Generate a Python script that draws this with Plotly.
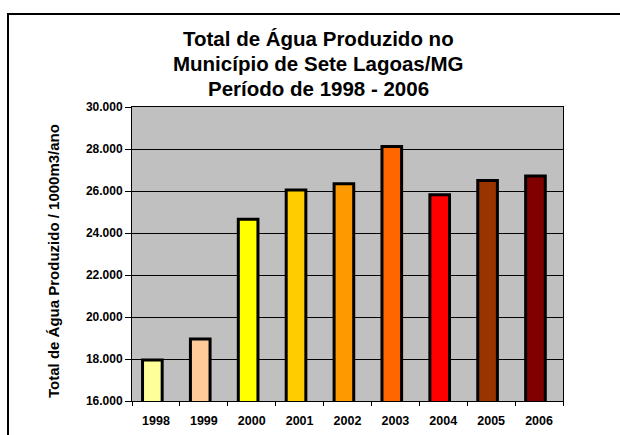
import plotly.graph_objects as go

years = ["1998", "1999", "2000", "2001", "2002", "2003", "2004", "2005", "2006"]
values = [17950, 18950, 24650, 26050, 26350, 28120, 25820, 26500, 26720]
colors = ["#FFFF99", "#FFCC99", "#FFFF00", "#FFCC00", "#FF9900",
          "#FF6600", "#FF0000", "#993300", "#800000"]
y_ticks = [16000, 18000, 20000, 22000, 24000, 26000, 28000, 30000]

title_lines = ["Total de Água Produzido no", "Município de Sete Lagoas/MG",
               "Período de 1998 - 2006"]
y_title = "Total de Água Produzido / 1000m3/ano"

W, H = 620, 435
L, R, T, B = 132, 57, 107, 34
pw, ph = W - L - R, H - T - B

def px_x(p):
    return (p - L) / pw

def px_y(p):
    return (H - B - p) / ph

font = "Liberation Sans, Arial, sans-serif"

fig = go.Figure(go.Bar(
    x=years, y=values,
    marker=dict(color=colors, line=dict(color="black", width=3)),
    width=0.41, offset=-0.28,
))

annotations = [dict(text=y_title, xref="paper", yref="paper",
                    x=px_x(53), y=px_y(261), textangle=-90, showarrow=False,
                    xanchor="center", yanchor="middle",
                    font=dict(size=15, family=font, color="black", weight="bold"))]
for line, cy in zip(title_lines, [39, 63.5, 88.5]):
    annotations.append(dict(text=line, xref="paper", yref="paper",
                            x=px_x(318), y=px_y(cy), showarrow=False,
                            xanchor="center", yanchor="middle",
                            font=dict(size=20.5, family=font, color="black",
                                      weight="bold")))

fig.update_layout(
    width=W, height=H,
    margin=dict(l=L, r=R, t=T, b=B),
    paper_bgcolor="white",
    plot_bgcolor="#C0C0C0",
    separators=",.",
    showlegend=False,
    font=dict(family=font, color="black"),
    xaxis=dict(
        type="category", showline=True, linecolor="black", linewidth=1,
        mirror=True, ticks="outside", tickson="boundaries", ticklen=4,
        tickcolor="black", showgrid=False, ticklabelstandoff=8,
        automargin=False,
        tickfont=dict(size=12.5, family=font, color="black", weight="bold"),
    ),
    yaxis=dict(
        range=[16000, 30000], tickvals=y_ticks, tickformat=",d",
        showline=True, linecolor="black", linewidth=1, mirror=True,
        ticks="outside", ticklen=6, tickcolor="black",
        showgrid=True, gridcolor="black", gridwidth=1, automargin=False,
        tickfont=dict(size=12, family=font, color="black", weight="bold"),
        zeroline=False,
    ),
    shapes=[dict(type="rect", xref="paper", yref="paper",
                 x0=px_x(8), x1=px_x(640), y0=px_y(14), y1=px_y(450),
                 line=dict(color="black", width=2), layer="above")],
    annotations=annotations,
)

fig.write_html(
    "out.html",
    config={"displayModeBar": False},
    post_script="document.documentElement.style.margin='0';"
                "document.body.style.margin='0';"
                "document.body.style.overflow='hidden';",
)
